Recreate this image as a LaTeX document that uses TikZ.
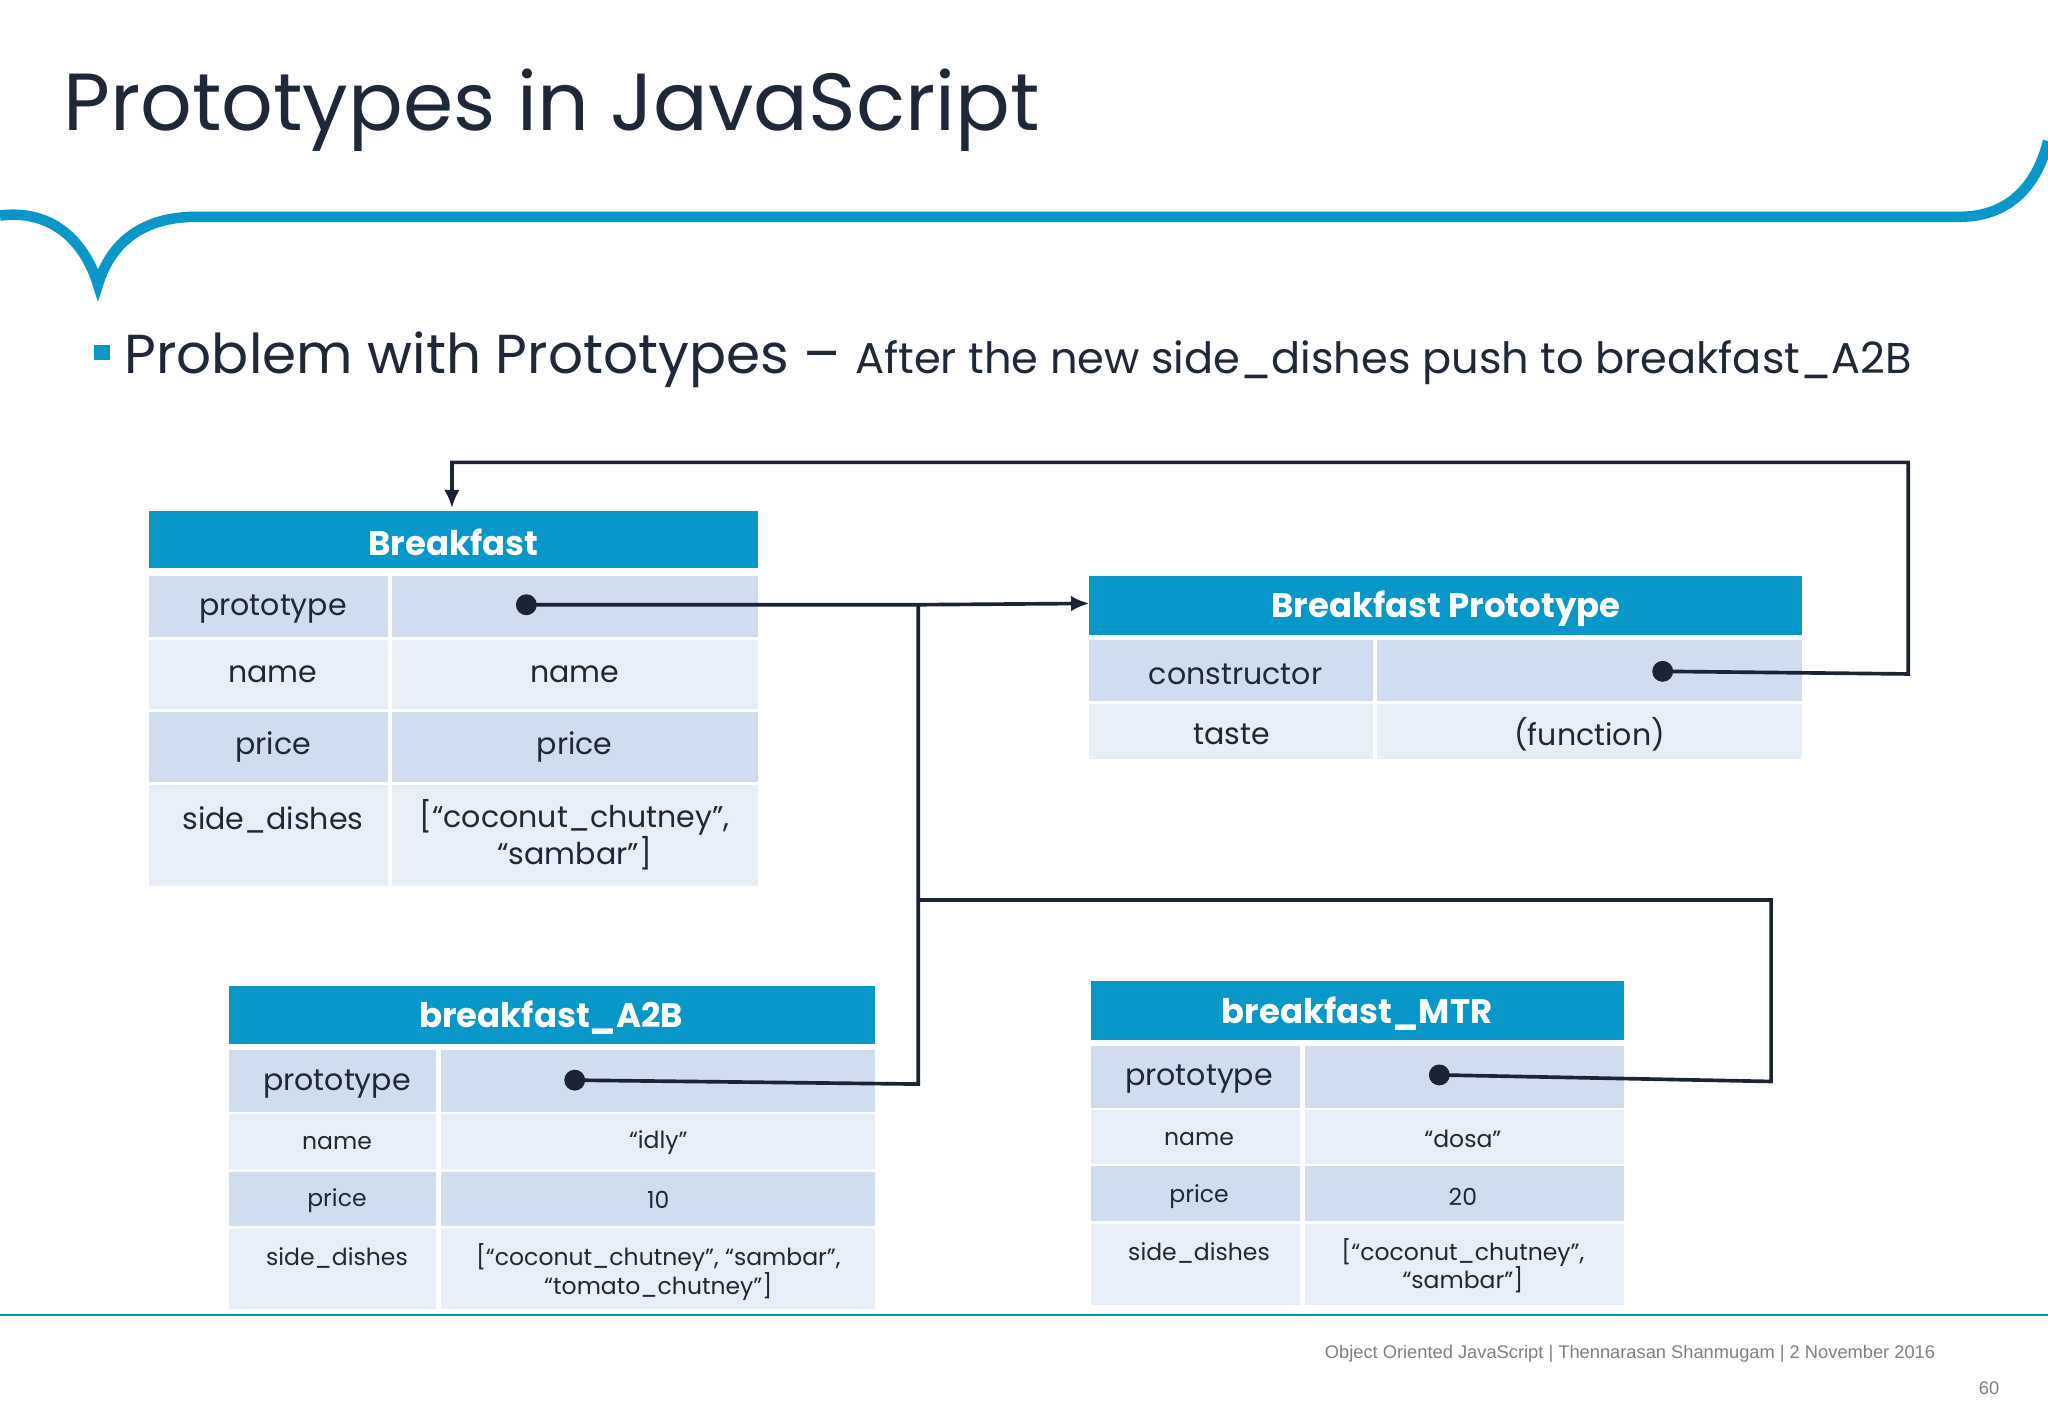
\documentclass[tikz,border=0pt]{standalone}
\usepackage{fontspec}
\setmainfont{Poppins}
\newfontfamily\footfont{Liberation Sans}
\usetikzlibrary{arrows.meta}
\definecolor{hblue}{HTML}{0798C9}
\definecolor{rdark}{HTML}{CFDDEE}
\definecolor{rlight}{HTML}{E8EEF7}
\definecolor{titlec}{HTML}{1E2838}
\definecolor{linec}{HTML}{1B2335}
\tikzset{
  htxt/.style={text=white,font=\fontsize{13}{15}\selectfont\bfseries},
  ctxt/.style={text=titlec,font=\fontsize{11.5}{14}\selectfont,align=center},
  stxt/.style={text=titlec,font=\fontsize{9}{11}\selectfont,align=center},
  conn/.style={draw=linec,line width=1.4pt},
  dotc/.style={circle,fill=linec,inner sep=0pt,minimum size=8pt},
}
\begin{document}
\begin{tikzpicture}[x=0.5pt,y=-0.5pt]
\useasboundingbox (0,0) rectangle (1568,1085);
\fill[white] (0,0) rectangle (1568,1085);
\draw[hblue,line width=4pt] (0,165) .. controls (40,160) and (65,185) .. (75,218) .. controls (85,185) and (110,166) .. (150,166) -- (1500,166) .. controls (1540,166) and (1560,140) .. (1568,108);
\node[anchor=base west,inner sep=0pt,text=titlec,font=\fontsize{31}{34}\selectfont] (title) at (48,100) {Prototypes in JavaScript};
\fill[hblue] (72,264) rectangle (84,276);
\node[anchor=base west,inner sep=0pt,text=titlec] (sub) at (95,286) {\fontsize{21}{24}\selectfont Problem with Prototypes – \fontsize{16.5}{20}\selectfont After the new side\_dishes push to breakfast\_A2B};
% Breakfast
\fill[hblue] (114,391) rectangle (580,435);
\node[htxt] (bh) at (347,415) {Breakfast};
\fill[rdark] (114,441) rectangle (297,488); \fill[rdark] (300,441) rectangle (580,488);
\fill[rlight] (114,490) rectangle (297,543); \fill[rlight] (300,490) rectangle (580,543);
\fill[rdark] (114,545) rectangle (297,599); \fill[rdark] (300,545) rectangle (580,599);
\fill[rlight] (114,601) rectangle (297,678); \fill[rlight] (300,601) rectangle (580,678);
\node[ctxt] (b1) at (209,466) {prototype};
\node[ctxt] (b2) at (209,516) {name};
\node[ctxt] (b2v) at (440,516) {name};
\node[ctxt] (b3) at (209,572) {price};
\node[ctxt] (b3v) at (440,572) {price};
\node[ctxt] (b4) at (209,628) {side\_dishes};
\node[ctxt,anchor=north] (b4v) at (440,605) {[“coconut\_chutney”,\\“sambar”]};
\node[dotc] (bdot) at (403,463) {};
% Breakfast Prototype
\fill[hblue] (834,441) rectangle (1380,486);
\node[htxt] (ph) at (1107,466) {Breakfast Prototype};
\fill[rdark] (834,490) rectangle (1051,537); \fill[rdark] (1054,490) rectangle (1380,537);
\fill[rlight] (834,539) rectangle (1051,581); \fill[rlight] (1054,539) rectangle (1380,581);
\node[ctxt] (p1) at (946,516) {constructor};
\node[ctxt] (p2) at (943,562) {taste};
\node[ctxt] (p2v) at (1217,562) {(function)};
\node[dotc] (pdot) at (1273,514) {};
% A2B
\fill[hblue] (175,755) rectangle (670,799);
\node[htxt] (ah) at (422,779) {breakfast\_A2B};
\fill[rdark] (175,804) rectangle (334,851); \fill[rdark] (338,804) rectangle (670,851);
\fill[rlight] (175,853) rectangle (334,895); \fill[rlight] (338,853) rectangle (670,895);
\fill[rdark] (175,897) rectangle (334,939); \fill[rdark] (338,897) rectangle (670,939);
\fill[rlight] (175,941) rectangle (334,1002); \fill[rlight] (338,941) rectangle (670,1002);
\node[ctxt] (a1) at (258,830) {prototype};
\node[stxt] (a2) at (258,875) {name};
\node[stxt] (a2v) at (504,875) {“idly”};
\node[stxt] (a3) at (258,919) {price};
\node[stxt] (a3v) at (504,919) {10};
\node[stxt] (a4) at (258,963) {side\_dishes};
\node[stxt,anchor=north] (a4v) at (504,945) {[“coconut\_chutney”, “sambar”,\\“tomato\_chutney”]};
\node[dotc] (adot) at (440,827) {};
% MTR
\fill[hblue] (835,751) rectangle (1243,796);
\node[htxt] (mh) at (1039,776) {breakfast\_MTR};
\fill[rdark] (835,801) rectangle (995,848); \fill[rdark] (999,801) rectangle (1243,848);
\fill[rlight] (835,850) rectangle (995,891); \fill[rlight] (999,850) rectangle (1243,891);
\fill[rdark] (835,893) rectangle (995,935); \fill[rdark] (999,893) rectangle (1243,935);
\fill[rlight] (835,937) rectangle (995,999); \fill[rlight] (999,937) rectangle (1243,999);
\node[ctxt] (m1) at (918,826) {prototype};
\node[stxt] (m2) at (918,872) {name};
\node[stxt] (m2v) at (1120,872) {“dosa”};
\node[stxt] (m3) at (918,916) {price};
\node[stxt] (m3v) at (1120,916) {20};
\node[stxt] (m4) at (918,959) {side\_dishes};
\node[stxt,anchor=north] (m4v) at (1120,941) {[“coconut\_chutney”,\\“sambar”]};
\node[dotc] (mdot) at (1102,823) {};
% connectors
\coordinate (j1) at (703,463);
\coordinate (j2) at (703,689);
\draw[conn,-{Latex[length=7pt,width=6pt]}] (bdot.center) -- (j1) -- (834,462);
\draw[conn] (adot.center) -- (703,830) -- (j1);
\draw[conn] (mdot.center) -- (1356,828) -- (1356,689) -- (j2);
\draw[conn,-{Latex[length=7pt,width=6pt]}] (pdot.center) -- (1461,516) -- (1461,354) -- (346,354) -- (346,389);
% footer
\draw[hblue!80!teal,line width=0.6pt] (0,1007) -- (1568,1007);
\node[anchor=base east,inner sep=0pt,text=gray,font=\footfont\fontsize{7}{8}\selectfont] (foot) at (1482,1040) {Object Oriented JavaScript | Thennarasan Shanmugam | 2 November 2016};
\node[anchor=base east,inner sep=0pt,text=gray,font=\footfont\fontsize{7}{8}\selectfont] (pg) at (1531,1068) {60};
\end{tikzpicture}
\end{document}
